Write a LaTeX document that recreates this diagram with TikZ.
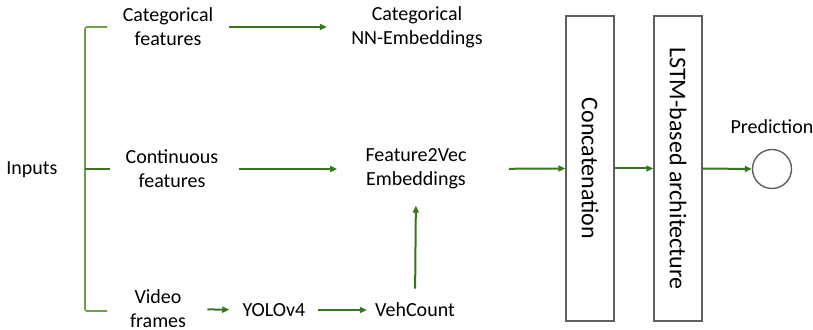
\documentclass[tikz,border=0pt]{standalone}
\usepackage{fontspec}
\setmainfont{Carlito}
\usetikzlibrary{arrows.meta}
\definecolor{arrgreen}{RGB}{56,118,29}
\definecolor{brkgreen}{RGB}{106,160,74}
\definecolor{boxgray}{RGB}{96,96,96}
\tikzset{
  txt/.style={inner sep=0pt,align=center,font=\fontsize{10}{12}\selectfont},
  arr/.style={draw=arrgreen,line width=1pt,-{Triangle[length=3.5pt,width=3pt]}},
  brk/.style={draw=brkgreen,line width=0.8pt},
  layerbox/.style={draw=boxgray,line width=0.7pt,rotate=-90,minimum width=152.5pt,minimum height=24pt,inner sep=0pt,font=\fontsize{12}{14}\selectfont}
}
\begin{document}
\begin{tikzpicture}[x=0.5pt,y=0.5pt,yscale=-1,xscale=1]
		\useasboundingbox (0,0) rectangle (813,330);

		% Text Node
		\node [txt] (inputs) at (32,170) {Inputs};
		% Text Node
		\node [txt] (catfeat) at (168,27) {Categorical\\features};
		% Text Node
		\node [txt] (contfeat) at (172,169) {Continuous\\features};
		% Text Node
		\node [txt] (video) at (158,309) {Video\\frames};
		% Text Node
		\node [txt] (catemb) at (417,27) {Categorical\\NN-Embeddings};
		% Text Node
		\node [txt] (f2v) at (416,169) {Feature2Vec\\Embeddings};
		% Text Node
		\node [txt] (yolo) at (274,310) {YOLOv4};
		% Text Node
		\node [txt] (veh) at (415,310) {VehCount};
		% Text Node
		\node [txt] (pred) at (772,127) {Prediction};

		%Shape: Rectangle
		\node [layerbox] (concat) at (590,168.5) {Concatenation};
		%Shape: Rectangle
		\node [layerbox] (lstm) at (678,168.5) {LSTM-based architecture};
		%Shape: Circle
		\node [draw=boxgray,line width=0.7pt,circle,minimum size=19.5pt,inner sep=0pt] (out) at (772,169) {};

		%Shape: Bracket
		\draw [brk,rounded corners=1pt] (107,27) -- (85,27) -- (85,311) -- (107,311);
		\draw [brk,draw=arrgreen,line width=1pt] (85,169) -- (110,169);

		%Straight Lines [id:arrows]
		\draw [arr,shorten <=7.75pt,shorten >=12pt] (catfeat.east) -- (catemb.west);
		\draw [arr,shorten <=10pt,shorten >=14pt] (contfeat.east) -- (f2v.west);
		\draw [arr,shorten <=21pt] (f2v.east) -- (concat.south);
		\draw [arr] (concat.north) -- (lstm.south);
		\draw [arr] (lstm.north) -- (out.west);
		\draw [arr,shorten <=10.5pt,shorten >=6.5pt] (video.east) -- (yolo.west);
		\draw [arr,shorten <=6pt,shorten >=4pt] (yolo.east) -- (veh.west);
		\draw [arr,shorten <=7pt,shorten >=8pt] (veh.north) -- (f2v.south);

\end{tikzpicture}
\end{document}
